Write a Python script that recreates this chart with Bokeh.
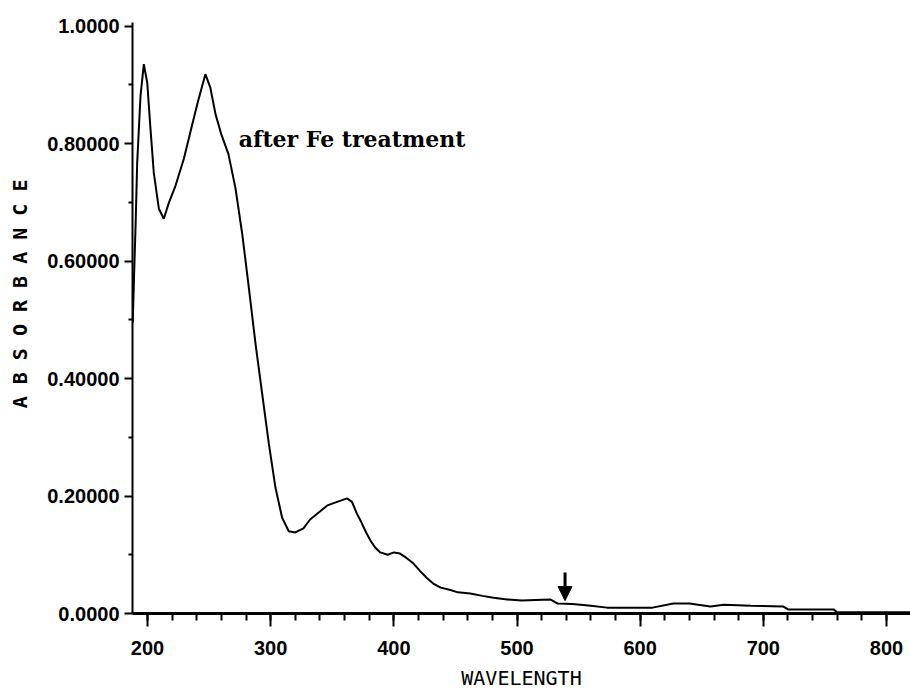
from bokeh.plotting import figure
from bokeh.models import FixedTicker, Label, Arrow, NormalHead, Range1d
from bokeh.embed import file_html
from bokeh.resources import INLINE

# ---- data ----
wavelength = [188, 189, 190.3, 191.6, 194.3, 197, 199.8, 202.4, 205.1, 209.2,
              213.2, 217.3, 222.7, 229.5, 236, 241, 247, 251, 255.2, 260,
              265.7, 271.4, 276.9, 282.3, 287.7, 293.1, 298.5, 303.9, 309.3, 314.7,
              320, 326.6, 332, 339, 346, 354, 362, 366, 370, 373,
              377, 381, 385, 389, 395, 400, 405, 410, 416, 421,
              427, 432, 438, 446, 452, 462, 472, 481, 492, 504,
              515, 527, 533, 545, 560, 573, 590, 610, 627, 640,
              657, 668, 690, 716, 720, 740, 757, 760, 790, 819]
absorbance = [0.495, 0.57, 0.66, 0.767, 0.881, 0.935, 0.903, 0.825, 0.75, 0.689,
              0.672, 0.699, 0.728, 0.774, 0.83, 0.872, 0.918, 0.895, 0.85, 0.815,
              0.782, 0.724, 0.646, 0.554, 0.459, 0.374, 0.289, 0.214, 0.163, 0.14,
              0.138, 0.145, 0.16, 0.172, 0.184, 0.19, 0.196, 0.19, 0.17, 0.158,
              0.14, 0.124, 0.112, 0.104, 0.1, 0.104, 0.102, 0.095, 0.085, 0.073,
              0.06, 0.051, 0.044, 0.04, 0.036, 0.034, 0.03, 0.027, 0.024, 0.022,
              0.023, 0.024, 0.017, 0.016, 0.013, 0.010, 0.010, 0.010, 0.017, 0.017,
              0.012, 0.015, 0.013, 0.012, 0.007, 0.007, 0.007, 0.002, 0.002, 0.002]

x_major_ticks = [200, 300, 400, 500, 600, 700, 800]
x_minor_ticks = list(range(200, 820, 20))
y_major_ticks = [0.0, 0.2, 0.4, 0.6, 0.8, 1.0]
y_minor_ticks = [0.1, 0.3, 0.5, 0.7, 0.9]
y_tick_labels = ["0.0000", "0.20000", "0.40000", "0.60000", "0.80000", "1.0000"]

annotation_text = "after Fe treatment"
arrow_wavelength = 539
arrow_top = 0.07
arrow_tip = 0.022

x_title = "WAVELENGTH"
y_title = "A B S O R B A N C E"

# ---- figure ----
p = figure(width=910, height=692, output_backend="svg", toolbar_location=None,
           x_range=Range1d(187.8, 819.5), y_range=Range1d(0, 1.006),
           min_border_left=132, min_border_right=0, min_border_top=22,
           min_border_bottom=79)
p.outline_line_color = None
p.xgrid.visible = False
p.ygrid.visible = False
p.background_fill_color = "white"
p.border_fill_color = "white"

tick_font = "Liberation Sans"

xa = p.xaxis[0]
xa.ticker = FixedTicker(ticks=x_major_ticks, minor_ticks=x_minor_ticks)
xa.axis_line_width = 3
xa.major_tick_line_width = 2
xa.minor_tick_line_width = 2
xa.major_tick_out = 13
xa.major_tick_in = 0
xa.minor_tick_out = 7
xa.minor_tick_in = 0
xa.major_label_text_font = tick_font
xa.major_label_text_font_style = "bold"
xa.major_label_text_font_size = "20px"
xa.major_label_text_color = "black"
xa.major_label_standoff = 14
xa.axis_label = x_title
xa.axis_label_text_font = "DejaVu Sans Mono"
xa.axis_label_text_font_style = "normal"
xa.axis_label_text_font_size = "20px"
xa.axis_label_text_color = "black"
xa.axis_label_standoff = 8

ya = p.yaxis[0]
ya.ticker = FixedTicker(ticks=y_major_ticks, minor_ticks=y_minor_ticks)
ya.major_label_overrides = {t: s for t, s in zip(y_major_ticks, y_tick_labels)}
ya.axis_line_width = 2
ya.major_tick_line_width = 2
ya.minor_tick_line_width = 2
ya.major_tick_out = 8
ya.major_tick_in = 0
ya.minor_tick_out = 4
ya.minor_tick_in = 0
ya.major_label_text_font = tick_font
ya.major_label_text_font_style = "bold"
ya.major_label_text_font_size = "20px"
ya.major_label_text_color = "black"
ya.major_label_standoff = 5
# leading no-break spaces lift the rotated title slightly above the frame centre
ya.axis_label = "\u00a0" * 4 + y_title
ya.axis_label_text_font = "DejaVu Sans Mono"
ya.axis_label_text_font_style = "bold"
ya.axis_label_text_font_size = "20px"
ya.axis_label_text_color = "black"
ya.axis_label_standoff = 12

# spectrum
p.line(wavelength, absorbance, line_color="black", line_width=2)

# annotation text
p.add_layout(Label(x=274, y=0.808, text=annotation_text,
                   text_font="DejaVu Serif", text_font_style="bold",
                   text_font_size="22px", text_color="black",
                   text_baseline="alphabetic", text_align="left"))

# arrow marker
p.add_layout(Arrow(end=NormalHead(size=14, fill_color="black", line_color="black"),
                   x_start=arrow_wavelength, y_start=arrow_top,
                   x_end=arrow_wavelength, y_end=arrow_tip,
                   line_width=3, line_color="black"))

open("out.html", "w").write(file_html(p, INLINE))
